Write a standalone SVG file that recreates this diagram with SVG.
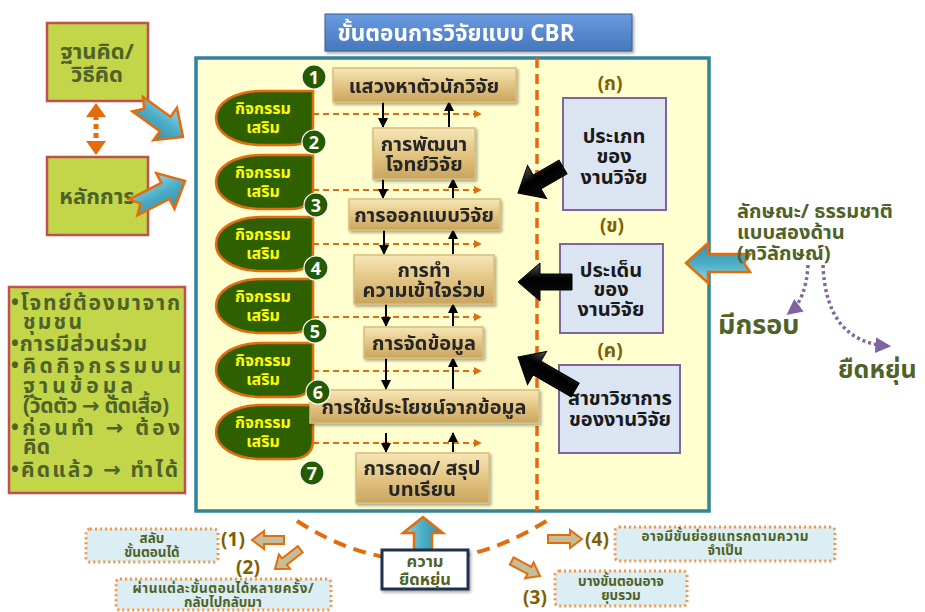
<svg xmlns="http://www.w3.org/2000/svg" width="925" height="612" viewBox="0 0 925 612">
<defs>
<linearGradient id="tan" x1="0" y1="0" x2="0" y2="1">
<stop offset="0" stop-color="#f6e7b8"/><stop offset="0.5" stop-color="#e3c583"/><stop offset="1" stop-color="#c9a55e"/>
</linearGradient>
<linearGradient id="blueT" x1="0" y1="0" x2="0" y2="1">
<stop offset="0" stop-color="#6a9be0"/><stop offset="1" stop-color="#4677bd"/>
</linearGradient>
<linearGradient id="cyan" x1="0" y1="0" x2="0" y2="1">
<stop offset="0" stop-color="#8fd6ea"/><stop offset="0.5" stop-color="#4bacc6"/><stop offset="1" stop-color="#3590aa"/>
</linearGradient>
<linearGradient id="blk" x1="0" y1="0" x2="0" y2="1">
<stop offset="0" stop-color="#555"/><stop offset="0.4" stop-color="#000"/><stop offset="1" stop-color="#111"/>
</linearGradient>
<filter id="sh" x="-10%" y="-10%" width="130%" height="140%"><feDropShadow dx="1.5" dy="2" stdDeviation="1.5" flood-color="#000" flood-opacity="0.35"/></filter>
<marker id="ah" viewBox="0 0 10 10" refX="9" refY="5" markerWidth="5" markerHeight="5" orient="auto"><path d="M0 0 L10 5 L0 10 Z" fill="#000"/></marker>
<marker id="ao" viewBox="0 0 10 10" refX="9" refY="5" markerWidth="4" markerHeight="4" orient="auto"><path d="M0 0 L10 5 L0 10 Z" fill="#e46c0a"/></marker>
<marker id="ap" viewBox="0 0 10 10" refX="8" refY="5" markerWidth="4.5" markerHeight="4.5" orient="auto"><path d="M0 0 L10 5 L0 10 Z" fill="#8064a2"/></marker>
<style>
text{font-family:"Noto Sans Thai","Leelawadee UI",Tahoma,"DejaVu Sans",sans-serif;font-weight:bold}
.grn{fill:#4f6228}
.lb{fill:#c3d64a;stroke:#c0504d;stroke-width:2.5}
.leaf{fill:#2f6000;stroke:#e46c0a;stroke-width:2.5}
.lt{fill:#ffff00;font-size:16px;text-anchor:middle}
.num{fill:#255b00;stroke:#fff;stroke-width:1.2}
.nt{fill:#fff;font-size:18px;text-anchor:middle}
.step{fill:url(#tan);stroke:#d8bd7c;stroke-width:1.5}
.st{fill:#262626;font-size:20px;text-anchor:middle}
.od{fill:none;stroke:#e46c0a;stroke-width:2;stroke-dasharray:6 4}
.ba{stroke:#000;stroke-width:2;marker-end:url(#ah)}
.rb{fill:#dbe5f1;stroke:#8064a2;stroke-width:2}
.rt{fill:#1a1a1a;font-size:20px;text-anchor:middle}
.pl{fill:#7f6000;font-size:19px;text-anchor:middle}
.cy{fill:url(#cyan);stroke:#e46c0a;stroke-width:2.5;stroke-linejoin:miter}
.bk{fill:url(#blk);stroke:#000;stroke-width:1}
.tanA{fill:#c4bd97;stroke:#e46c0a;stroke-width:2}
.db{fill:#daeef3;stroke:#f79646;stroke-width:3;stroke-dasharray:2 3}
.dt{fill:#4f6228;font-size:13.5px;text-anchor:middle}
.lst{fill:#4f6228;font-size:21px}
</style>
</defs>
<rect width="925" height="612" fill="#fff"/>

<g id="frame">
<rect x="196" y="58" width="513" height="453" fill="#ffffd0" stroke="#31849b" stroke-width="3.5"/>
<line x1="537" y1="58" x2="537" y2="511" stroke="#e46c0a" stroke-width="3.5" stroke-dasharray="10 6"/>
</g>

<g id="title" filter="url(#sh)">
<rect x="325" y="14" width="307" height="37" fill="url(#blueT)" stroke="#385d8a" stroke-width="1"/>
<text x="456" y="41" fill="#fff" font-size="22.5" text-anchor="middle">ขั้นตอนการวิจัยแบบ CBR</text>
</g>

<g id="n-basis">
<rect class="lb" x="47" y="23" width="101" height="78"/>
<text class="grn" x="97" y="59" font-size="22" text-anchor="middle">ฐานคิด/</text>
<text class="grn" x="97" y="82" font-size="22" text-anchor="middle">วิธีคิด</text>
</g>
<g id="n-principle">
<rect class="lb" x="47" y="157" width="101" height="78"/>
<text class="grn" x="97" y="204" font-size="22" text-anchor="middle">หลักการ</text>
</g>

<g id="n-list">
<rect class="lb" x="9" y="287" width="176" height="206"/>
<text class="lst" x="11" y="310" textLength="169" lengthAdjust="spacing">•โจทย์ต้องมาจาก</text>
<text class="lst" x="23" y="329" textLength="59" lengthAdjust="spacing">ชุมชน</text>
<text class="lst" x="11" y="351" textLength="136" lengthAdjust="spacing">•การมีส่วนร่วม</text>
<text class="lst" x="11" y="373" textLength="170" lengthAdjust="spacing">•คิดกิจกรรมบน</text>
<text class="lst" x="23" y="393" textLength="110" lengthAdjust="spacing">ฐานข้อมูล</text>
<text class="lst" x="23" y="413" font-size="18" textLength="146" lengthAdjust="spacing">(วัดตัว → ตัดเสื้อ)</text>
<text class="lst" x="11" y="435" textLength="169" lengthAdjust="spacing">•ก่อนทำ →  ต้อง</text>
<text class="lst" x="23" y="454" textLength="27" lengthAdjust="spacing">คิด</text>
<text class="lst" x="11" y="477" textLength="167" lengthAdjust="spacing">•คิดแล้ว → ทำได้</text>
</g>

<g id="activities">
<g id="act1"><path class="leaf" d="M313 91 L313 126 Q313 145 290 145 L262 145 C234 145 216 133 216 118 C216 103 234 91 262 91 Z"/><text class="lt" x="263" y="114">กิจกรรม</text><text class="lt" x="263" y="133">เสริม</text></g>
<g id="act2"><path class="leaf" d="M313 155 L313 190 Q313 209 290 209 L262 209 C234 209 216 197 216 182 C216 167 234 155 262 155 Z"/><text class="lt" x="263" y="178">กิจกรรม</text><text class="lt" x="263" y="197">เสริม</text></g>
<g id="act3"><path class="leaf" d="M313 217 L313 252 Q313 271 290 271 L262 271 C234 271 216 259 216 244 C216 229 234 217 262 217 Z"/><text class="lt" x="263" y="240">กิจกรรม</text><text class="lt" x="263" y="259">เสริม</text></g>
<g id="act4"><path class="leaf" d="M313 279 L313 314 Q313 333 290 333 L262 333 C234 333 216 321 216 306 C216 291 234 279 262 279 Z"/><text class="lt" x="263" y="302">กิจกรรม</text><text class="lt" x="263" y="321">เสริม</text></g>
<g id="act5"><path class="leaf" d="M313 343 L313 378 Q313 397 290 397 L262 397 C234 397 216 385 216 370 C216 355 234 343 262 343 Z"/><text class="lt" x="263" y="366">กิจกรรม</text><text class="lt" x="263" y="385">เสริม</text></g>
<g id="act6"><path class="leaf" d="M313 405 L313 440 Q313 459 290 459 L262 459 C234 459 216 447 216 432 C216 417 234 405 262 405 Z"/><text class="lt" x="263" y="428">กิจกรรม</text><text class="lt" x="263" y="447">เสริม</text></g>
</g>

<g id="connectors">
<line class="od" x1="313" y1="114" x2="481" y2="114" marker-end="url(#ao)"/>
<line class="od" x1="313" y1="190" x2="481" y2="190" marker-end="url(#ao)"/>
<line class="od" x1="313" y1="244" x2="481" y2="244" marker-end="url(#ao)"/>
<line class="od" x1="313" y1="317" x2="481" y2="317" marker-end="url(#ao)"/>
<line class="od" x1="313" y1="371" x2="481" y2="371" marker-end="url(#ao)"/>
<line class="od" x1="313" y1="443" x2="481" y2="443" marker-end="url(#ao)"/>
<line class="ba" x1="383" y1="102" x2="383" y2="127"/>
<line class="ba" x1="449" y1="127" x2="449" y2="102"/>
<line class="ba" x1="383" y1="179" x2="383" y2="198"/>
<line class="ba" x1="453" y1="198" x2="453" y2="179"/>
<line class="ba" x1="384" y1="230" x2="384" y2="254"/>
<line class="ba" x1="453" y1="254" x2="453" y2="230"/>
<line class="ba" x1="386" y1="304" x2="386" y2="326"/>
<line class="ba" x1="453" y1="326" x2="453" y2="304"/>
<line class="ba" x1="386" y1="358" x2="386" y2="389"/>
<line class="ba" x1="453" y1="389" x2="453" y2="358"/>
<line class="ba" x1="386" y1="433" x2="386" y2="452"/>
<line class="ba" x1="453" y1="452" x2="453" y2="433"/>
<line x1="96" y1="115" x2="96" y2="143" stroke="#e46c0a" stroke-width="5" stroke-dasharray="5 4"/>
<path d="M96 103 L86 117 L106 117 Z" fill="#e46c0a"/>
<path d="M96 155 L86 141 L106 141 Z" fill="#e46c0a"/>
<path class="cy" transform="translate(183,137) rotate(36)" d="M0 0 L-22 -20 L-22 -9 L-56 -9 L-48 0 L-56 9 L-22 9 L-22 20 Z"/>
<path class="cy" transform="translate(185,181) rotate(-27)" d="M0 0 L-22 -20 L-22 -9 L-58 -9 L-50 0 L-58 9 L-22 9 L-22 20 Z"/>
<path class="cy" transform="translate(686,263) rotate(180)" d="M0 0 L-22 -20 L-22 -9 L-64 -9 L-58 0 L-64 9 L-22 9 L-22 20 Z"/>
<path class="cy" transform="translate(423,517) rotate(-90)" d="M0 0 L-16 -20 L-16 -9 L-34 -9 L-34 9 L-16 9 L-16 20 Z"/>
<path d="M808 265 Q806 300 789 313" fill="none" stroke="#8064a2" stroke-width="3.5" stroke-dasharray="3 3" marker-end="url(#ap)"/>
<path d="M823 265 Q826 342 888 346" fill="none" stroke="#8064a2" stroke-width="3.5" stroke-dasharray="3 3" marker-end="url(#ap)"/>
<path d="M297 521 Q420 600 548 520" fill="none" stroke="#e46c0a" stroke-width="4" stroke-dasharray="13 8"/>
<path class="tanA" transform="translate(252,540) rotate(180)" d="M0 0 L-12 -9 L-12 -4 L-32 -4 L-32 4 L-12 4 L-12 9 Z"/>
<path class="tanA" transform="translate(275,569) rotate(142)" d="M0 0 L-12 -9 L-12 -4 L-32 -4 L-32 4 L-12 4 L-12 9 Z"/>
<path class="tanA" transform="translate(540,576) rotate(28)" d="M0 0 L-12 -9 L-12 -4 L-32 -4 L-32 4 L-12 4 L-12 9 Z"/>
<path class="tanA" transform="translate(582,539)" d="M0 0 L-12 -9 L-12 -4 L-34 -4 L-34 4 L-12 4 L-12 9 Z"/>
</g>

<g id="steps">
<g id="s1" filter="url(#sh)"><rect class="step" x="333" y="68" width="183" height="34"/><text class="st" x="424" y="93" font-size="22">แสวงหาตัวนักวิจัย</text></g>
<g id="s2" filter="url(#sh)"><rect class="step" x="373" y="128" width="102" height="51"/><text class="st" x="424" y="151">การพัฒนา</text><text class="st" x="424" y="171">โจทย์วิจัย</text></g>
<g id="s3" filter="url(#sh)"><rect class="step" x="349" y="199" width="151" height="31"/><text class="st" x="424" y="222">การออกแบบวิจัย</text></g>
<g id="s4" filter="url(#sh)"><rect class="step" x="354" y="255" width="140" height="49"/><text class="st" x="424" y="277">การทำ</text><text class="st" x="424" y="297">ความเข้าใจร่วม</text></g>
<g id="s5" filter="url(#sh)"><rect class="step" x="364" y="327" width="119" height="31"/><text class="st" x="424" y="350">การจัดข้อมูล</text></g>
<g id="s6" filter="url(#sh)"><rect class="step" x="310" y="390" width="229" height="33"/><text class="st" x="424" y="414">การใช้ประโยชน์จากข้อมูล</text></g>
<g id="s7" filter="url(#sh)"><rect class="step" x="356" y="453" width="133" height="50"/><text class="st" x="422" y="475">การถอด/ สรุป</text><text class="st" x="422" y="496">บทเรียน</text></g>
</g>

<g id="numbers">
<circle class="num" cx="314" cy="77" r="12"/><text class="nt" x="314" y="84">1</text>
<circle class="num" cx="314" cy="142" r="12"/><text class="nt" x="314" y="149">2</text>
<circle class="num" cx="316" cy="205" r="12"/><text class="nt" x="316" y="212">3</text>
<circle class="num" cx="316" cy="268" r="12"/><text class="nt" x="316" y="275">4</text>
<circle class="num" cx="315" cy="331" r="12"/><text class="nt" x="315" y="338">5</text>
<circle class="num" cx="318" cy="392" r="12"/><text class="nt" x="318" y="399">6</text>
<circle class="num" cx="312" cy="473" r="12"/><text class="nt" x="312" y="480">7</text>
</g>

<g id="right">
<text class="pl" x="610" y="90">(ก)</text>
<g id="r1"><rect class="rb" x="563" y="98" width="103" height="112"/><text class="rt" x="614" y="143">ประเภท</text><text class="rt" x="614" y="163">ของ</text><text class="rt" x="614" y="184">งานวิจัย</text></g>
<text class="pl" x="612" y="232">(ข)</text>
<g id="r2"><rect class="rb" x="560" y="244" width="103" height="89"/><text class="rt" x="611" y="277">ประเด็น</text><text class="rt" x="611" y="296">ของ</text><text class="rt" x="611" y="316">งานวิจัย</text></g>
<text class="pl" x="610" y="357">(ค)</text>
<g id="r3"><rect class="rb" x="559" y="365" width="121" height="88"/><text class="rt" x="620" y="405">สาขาวิชาการ</text><text class="rt" x="620" y="426">ของงานวิจัย</text></g>
<path class="bk" transform="translate(518,193) rotate(-30)" d="M0 0 L22 -19 L22 -8 L52 -8 L52 8 L22 8 L22 19 Z"/>
<path class="bk" transform="translate(518,282)" d="M0 0 L22 -19 L22 -8 L54 -8 L54 8 L22 8 L22 19 Z"/>
<path class="bk" transform="translate(518,357) rotate(30)" d="M0 0 L22 -19 L22 -8 L66 -8 L66 8 L22 8 L22 19 Z"/>
</g>

<g id="nature">
<text class="grn" x="737" y="218" font-size="20">ลักษณะ/ ธรรมชาติ</text>
<text class="grn" x="737" y="239" font-size="20">แบบสองด้าน</text>
<text class="grn" x="737" y="260" font-size="20">(ทวิลักษณ์)</text>
<text class="grn" x="718" y="334" font-size="27">มีกรอบ</text>
<text class="grn" x="838" y="378" font-size="25">ยืดหยุ่น</text>
</g>

<g id="flex">
<rect x="382" y="550" width="86" height="39" fill="#fff" stroke="#1f3050" stroke-width="3" filter="url(#sh)"/>
<text class="grn" x="425" y="567" font-size="16.5" text-anchor="middle">ความ</text>
<text class="grn" x="425" y="585" font-size="16.5" text-anchor="middle">ยืดหยุ่น</text>
</g>

<g id="notes">
<text class="pl" x="233" y="546">(1)</text>
<text class="pl" x="248" y="574">(2)</text>
<text class="pl" x="535" y="604">(3)</text>
<text class="pl" x="597" y="546">(4)</text>
<g id="d1"><rect class="db" x="86" y="529" width="132" height="33" rx="4"/><text class="dt" x="152" y="543">สลับ</text><text class="dt" x="152" y="557">ขั้นตอนได้</text></g>
<g id="d2"><rect class="db" x="116" y="579" width="215" height="31" rx="4"/><text class="dt" x="223" y="593" textLength="181" lengthAdjust="spacing">ผ่านแต่ละขั้นตอนได้หลายครั้ง/</text><text class="dt" x="223" y="607">กลับไปกลับมา</text></g>
<g id="d3"><rect class="db" x="555" y="571" width="132" height="35" rx="4"/><text class="dt" x="621" y="586">บางขั้นตอนอาจ</text><text class="dt" x="621" y="600">ยุบรวม</text></g>
<g id="d4"><rect class="db" x="615" y="527" width="220" height="34" rx="4"/><text class="dt" x="725" y="541" textLength="167" lengthAdjust="spacing">อาจมีขั้นย่อยแทรกตามความ</text><text class="dt" x="725" y="555">จำเป็น</text></g>
</g>
</svg>
